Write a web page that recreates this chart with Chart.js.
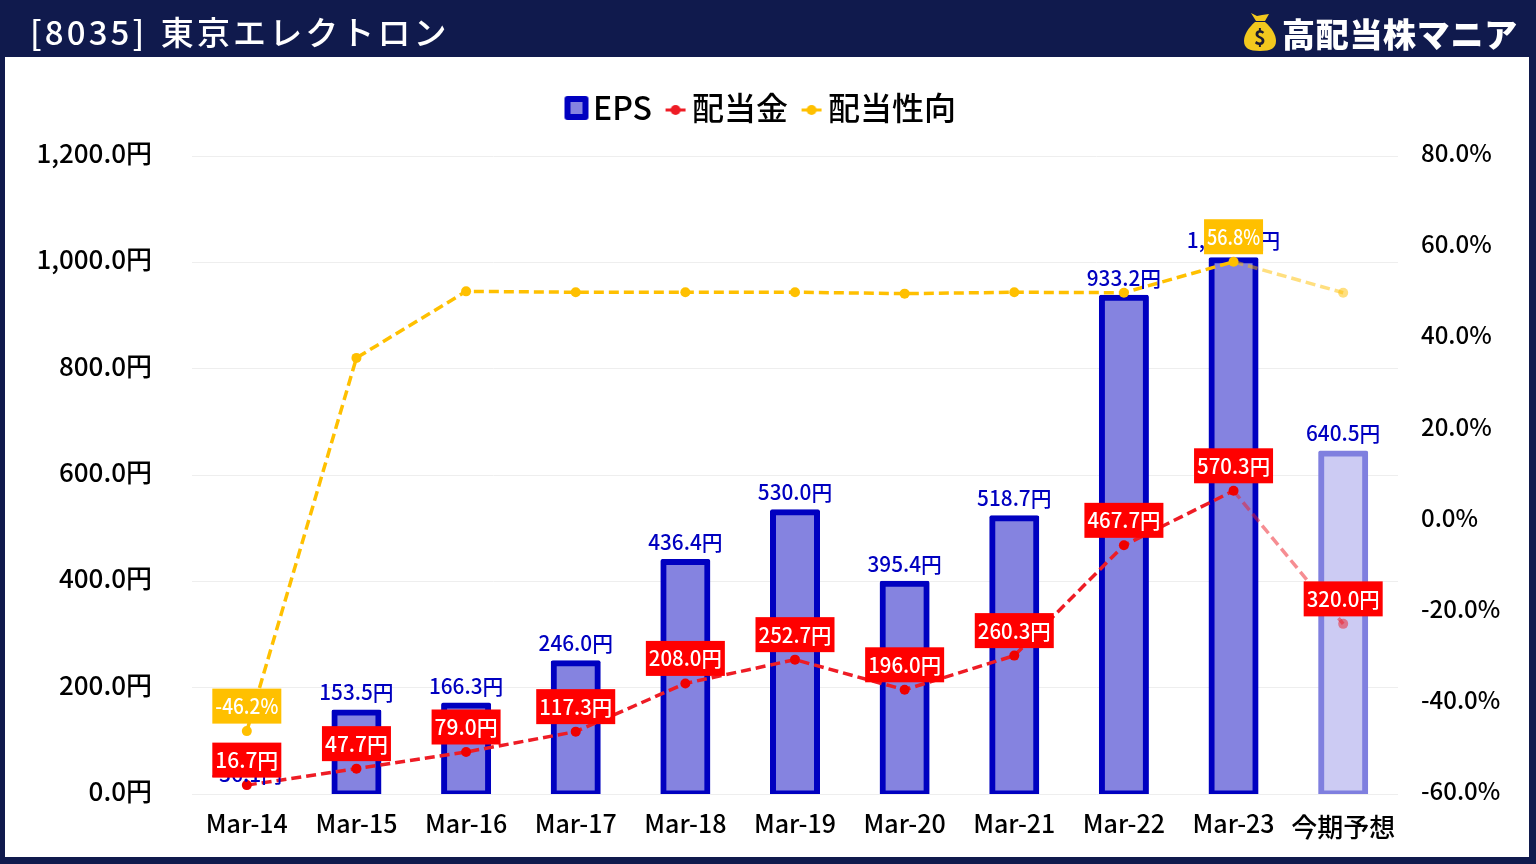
<!DOCTYPE html>
<html lang="ja"><head><meta charset="utf-8">
<style>
html,body{margin:0;padding:0;width:1536px;height:864px;overflow:hidden;background:#101a4d}
#panel{position:absolute;left:5px;top:57px;width:1524px;height:800px;background:#fff}
canvas{position:absolute;left:0;top:0}
#title{position:absolute;left:30px;top:9px;color:#fff;font:500 33px 'Noto Sans CJK JP';letter-spacing:3.1px;word-spacing:3px;line-height:44px;white-space:nowrap}
#brand{position:absolute;left:1282px;top:10px;color:#fff;font:900 33px 'Noto Sans CJK JP';letter-spacing:.7px;line-height:46px;white-space:nowrap}
#bag{position:absolute;left:1244px;top:12px}
</style></head><body>
<div id="panel"></div>
<canvas id="c" width="1536" height="864" style="width:1536px;height:864px"></canvas>
<div id="title">[8035] 東京エレクトロン</div>
<svg id="bag" width="32" height="40" viewBox="0 0 32 40"><path d="M7 1l6 3 5-1 7-1-4 7h-9z" fill="#f2c81e"/><path d="M11 10h10c7 6 11 13 11 19 0 7-5 10-16 10S0 36 0 29c0-6 4-13 11-19z" fill="#f2c81e"/><text x="16" y="33" text-anchor="middle" font-family="Noto Sans CJK JP" font-weight="700" font-size="20" fill="#1a1a30">$</text></svg>
<div id="brand">高配当株マニア</div>
<script src="https://cdn.jsdelivr.net/npm/chart.js@4"></script>
<script>
const categories=['Mar-14','Mar-15','Mar-16','Mar-17','Mar-18','Mar-19','Mar-20','Mar-21','Mar-22','Mar-23',['','今期予想']];
const eps=[-36.1,153.5,166.3,246.0,436.4,530.0,395.4,518.7,933.2,1004.0,640.5];
const dividend=[16.7,47.7,79.0,117.3,208.0,252.7,196.0,260.3,467.7,570.3,320.0];
const payout=[-46.2,35.7,50.3,50.1,50.1,50.1,49.8,50.1,50.0,56.8,50.0];
const leftTicks=[0,200,400,600,800,1000,1200];
const rightTicks=[-60,-40,-20,0,20,40,60,80];
const payoutLabelled=[0,9];
const FONT="'Noto Sans CJK JP'";
const last=categories.length-1;
function money(v){return v.toLocaleString('en-US',{minimumFractionDigits:1,maximumFractionDigits:1})+'円'}
function pct(v){return v.toFixed(1)+'%'}
function marker(kind,color,fill){
  const k=document.createElement('canvas');k.width=26;k.height=26;const x=k.getContext('2d');
  if(kind==='bar'){x.fillStyle=color;x.beginPath();x.roundRect(1,1,24,24,3);x.fill();x.fillStyle=fill;x.fillRect(7,7,12,12);}
  else{x.strokeStyle=color;x.lineWidth=3;x.beginPath();x.moveTo(3,15);x.lineTo(23,15);x.stroke();x.fillStyle=color;x.beginPath();x.arc(13,15,5,0,7);x.fill();}
  return k;
}
const labelsPlugin={id:'valueLabels',
 afterLayout(chart){chart.legend.top=69;chart.legend.left-=4;},
 afterDatasetsDraw(chart){
  const c=chart.ctx,sx=chart.scales.x,yl=chart.scales.y,yr=chart.scales.y1;
  c.save();c.textAlign='center';c.textBaseline='middle';
  c.font="500 21px "+FONT;c.fillStyle='#0000c0';
  eps.forEach((v,i)=>{const t=money(v);c.fillText(t,sx.getPixelForValue(i),yl.getPixelForValue(Math.max(v,0))-20,t.length*12.4);});
  const box=(txt,x,y,bg,w)=>{c.fillStyle=bg;c.fillRect(x-w/2,y-17.5,w,35);c.fillStyle='#fff';c.fillText(txt,x,y,w-6);};
  payoutLabelled.forEach(i=>{const t=pct(payout[i]);box(t,sx.getPixelForValue(i),yr.getPixelForValue(payout[i])-25,'#ffc000',t.length*10+9)});
  dividend.forEach((v,i)=>{const t=money(v);box(t,sx.getPixelForValue(i),yl.getPixelForValue(v)-25,'#ff0000',t.length*10+19)});
  c.restore();
}};
new Chart(document.getElementById('c'),{
  data:{labels:categories,datasets:[
    {type:'line',label:'配当金',data:dividend,yAxisID:'y',order:1,borderColor:'#ee1c25',backgroundColor:'#ee1c25',borderWidth:3.5,borderDash:[10,5],pointRadius:5,pointBackgroundColor:dividend.map((v,i)=>i===last?'rgba(238,28,37,.5)':'#f00000'),pointBorderWidth:0,tension:0,
     segment:{borderColor:s=>s.p1DataIndex===last?'rgba(238,28,37,.5)':undefined}},
    {type:'line',label:'配当性向',data:payout,yAxisID:'y1',order:2,borderColor:'#ffc000',backgroundColor:'#ffc000',borderWidth:3.5,borderDash:[10,5],pointRadius:5,pointBackgroundColor:payout.map((v,i)=>i===last?'rgba(255,192,0,.5)':'#ffc000'),pointBorderWidth:0,tension:0,
     segment:{borderColor:s=>s.p1DataIndex===last?'rgba(255,192,0,.5)':undefined}},
    {type:'bar',label:'EPS',data:eps,yAxisID:'y',order:3,barPercentage:44/109.6,categoryPercentage:1,clip:{left:false,right:false,top:false,bottom:0},
     inflateAmount:c=>c.raw<0?0:3,
     backgroundColor:eps.map((v,i)=>i===last?'#cccbf3':'#8583e0'),borderColor:eps.map((v,i)=>i===last?'#7f7fdf':'#0000c0'),borderWidth:6,borderRadius:2,borderSkipped:false}
  ]},
  options:{responsive:false,animation:false,devicePixelRatio:1,
    layout:{padding:{top:91,left:0,right:0,bottom:0}},
    plugins:{tooltip:{enabled:false},
      legend:{position:'top',align:'center',
        labels:{usePointStyle:true,pointStyleWidth:1,padding:23,color:'#000',font:{family:FONT,size:32,weight:'500'},
          generateLabels(){return [
            {text:'EPS',pointStyle:marker('bar','#0000c0','#8583e0'),fontColor:'#000',lineWidth:0},
            {text:'配当金',pointStyle:marker('line','#ee1c25'),fontColor:'#000',lineWidth:0},
            {text:'配当性向',pointStyle:marker('line','#ffc000'),fontColor:'#000',lineWidth:0}]}}}},
    scales:{
      x:{offset:true,grid:{display:false},border:{display:false},
        ticks:{color:'#000',font:c=>c.index===last?{family:FONT,size:26,weight:'500',lineHeight:'13px'}:{family:FONT,size:25,weight:'500'},padding:6,maxRotation:0,autoSkip:false},
        afterFit(s){s.height=70}},
      y:{position:'left',min:0,max:1200,afterBuildTicks(s){s.ticks=leftTicks.map(value=>({value}))},
        grid:{color:'#eeeeee',lineWidth:1,drawTicks:false},border:{display:false},
        ticks:{color:'#000',font:{family:FONT,size:26,weight:'500',lineHeight:'6px'},padding:40,callback:v=>[money(v),'']},
        afterFit(s){s.width=192}},
      y1:{position:'right',min:-60,max:80,afterBuildTicks(s){s.ticks=rightTicks.map(value=>({value}))},
        grid:{display:false,drawTicks:false},border:{display:false},
        ticks:{color:'#000',font:{family:FONT,size:24,weight:'500',lineHeight:'6px'},padding:23,callback:v=>[pct(v),'']},
        afterFit(s){s.width=138}}
    }},
  plugins:[labelsPlugin]
});
</script></body></html>
